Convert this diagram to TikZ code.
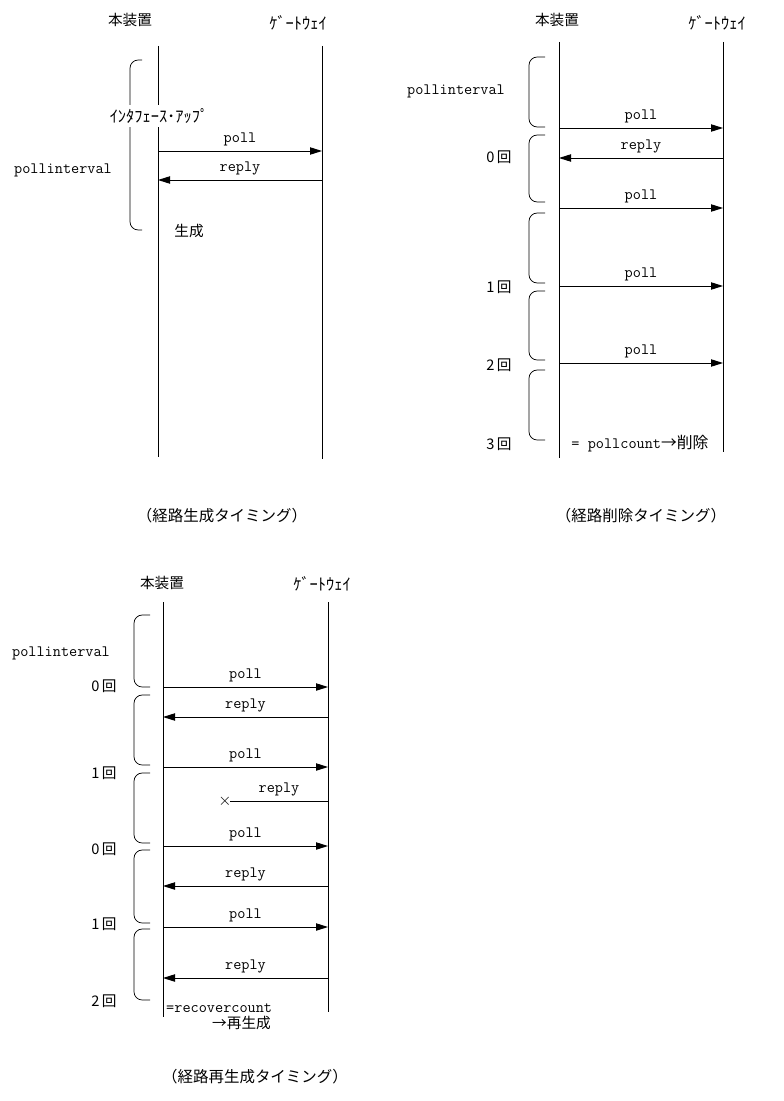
\documentclass[tikz,border=0pt]{standalone}
\usepackage{fontspec}
\usetikzlibrary{arrows.meta,calc}
\newfontfamily\jp{Noto Sans CJK JP}
\tikzset{
  life/.style={line width=0.8pt},
  msg/.style={line width=0.8pt,-{Triangle[length=3.6mm,width=2.2mm]}},
  brk/.style={line width=0.6pt,rounded corners=7},
  actor/.style={font=\jp\fontsize{12.5}{14}\selectfont},
  hkana/.style={font=\jp\fontsize{14}{16}\selectfont},
  cnt/.style={font=\jp\fontsize{12.5}{14}\selectfont},
  mlabel/.style={font=\ttfamily\fontsize{13.5}{15}\selectfont,above=0.5pt},
  plabel/.style={font=\ttfamily\fontsize{13.5}{15}\selectfont},
  caption/.style={font=\jp\fontsize{13.2}{15}\selectfont},
}
\begin{document}
\begin{tikzpicture}[x=0.03cm,y=-0.03cm]
  \useasboundingbox (0,0) rectangle (783,1101);
  % --- route creation ---
  \node[actor] (dev1) at (130,20) {本装置};
  \node[hkana] (gw1) at (298,23) {ｹﾞｰﾄｳｪｲ};
  \coordinate (A1t) at (158,46); \coordinate (A1b) at (158,457);
  \coordinate (B1t) at (322,46); \coordinate (B1b) at (322,459);
  \draw[life] (A1t) -- (A1b);
  \draw[life] (B1t) -- (B1b);
  \draw[brk] (142,60) -- (130,60) -- (130,230) -- (142,230);
  \node[hkana,fill=white,inner xsep=1pt,inner ysep=3pt] (ifup) at (159,116) {ｲﾝﾀﾌｪｰｽ･ｱｯﾌﾟ};
  \draw[msg] (A1t |- 0,151) -- node[mlabel] (p1) {poll} (B1t |- 0,151);
  \draw[msg] (B1t |- 0,180) -- node[mlabel] (r1) {reply} (A1t |- 0,180);
  \node[plabel] (int1) at (63,170) {pollinterval};
  \node[actor] (gen1) at (189,231) {生成};
  \node[caption] (cap1) at (222,516) {（経路生成タイミング）};

  % --- route deletion ---
  \node[actor] (dev2) at (557,20) {本装置};
  \node[hkana] (gw2) at (717,23) {ｹﾞｰﾄｳｪｲ};
  \coordinate (A2t) at (559,42); \coordinate (A2b) at (559,458);
  \coordinate (B2t) at (723,42); \coordinate (B2b) at (723,452);
  \draw[life] (A2t) -- (A2b);
  \draw[life] (B2t) -- (B2b);
  \foreach \t/\b in {57/127,135/202,213/283,291/360,370/440}
    \draw[brk] (545,\t) -- (529,\t) -- (529,\b) -- (545,\b);
  \foreach \y in {128,208,286,363}
    \draw[msg] (A2t |- 0,\y) -- node[mlabel] {poll} (B2t |- 0,\y);
  \draw[msg] (B2t |- 0,158) -- node[mlabel] (r2) {reply} (A2t |- 0,158);
  \node[plabel] (int2) at (456,91) {pollinterval};
  \foreach \y/\n in {157/0,287/1,365/2,444/3}
    \node[cnt] (c2-\n) at (499,\y) {{\n}\,回};
  \node[plabel] (del2) at (640,444) {= pollcount{\jp{}→削除}};
  \node[caption] (cap2) at (641,516) {（経路削除タイミング）};

  % --- route re-creation ---
  \node[actor] (dev3) at (162,583) {本装置};
  \node[hkana] (gw3) at (322,584) {ｹﾞｰﾄｳｪｲ};
  \coordinate (A3t) at (163,602); \coordinate (A3b) at (163,1017);
  \coordinate (B3t) at (328,602); \coordinate (B3b) at (328,1012);
  \draw[life] (A3t) -- (A3b);
  \draw[life] (B3t) -- (B3b);
  \foreach \t/\b in {615/687,695/765,773/843,850/923,929/1000}
    \draw[brk] (150,\t) -- (134,\t) -- (134,\b) -- (150,\b);
  \foreach \y in {687,767,846,927}
    \draw[msg] (A3t |- 0,\y) -- node[mlabel] {poll} (B3t |- 0,\y);
  \foreach \y in {717,886,978}
    \draw[msg] (B3t |- 0,\y) -- node[mlabel] {reply} (A3t |- 0,\y);
  \coordinate (lost) at (230,801);
  \draw[life] (B3t |- lost) -- node[mlabel] (r3) {reply} (lost);
  \node[inner sep=0pt,font=\fontsize{15}{15}\selectfont] (cross) at (225,801) {$\times$};
  \node[plabel] (int3) at (61,653) {pollinterval};
  \foreach \y/\n [count=\i] in {686/0,773/1,849/0,924/1,1001/2}
    \node[cnt] (c3-\i) at (104,\y) {{\n}\,回};
  \node[plabel,anchor=west,inner sep=0pt] (rc3) at (166,1008) {=recovercount};
  \node[actor,anchor=west,inner sep=0pt] (gen3) at (212,1023) {→再生成};
  \node[caption] (cap3) at (255,1077) {（経路再生成タイミング）};
\end{tikzpicture}
\end{document}
